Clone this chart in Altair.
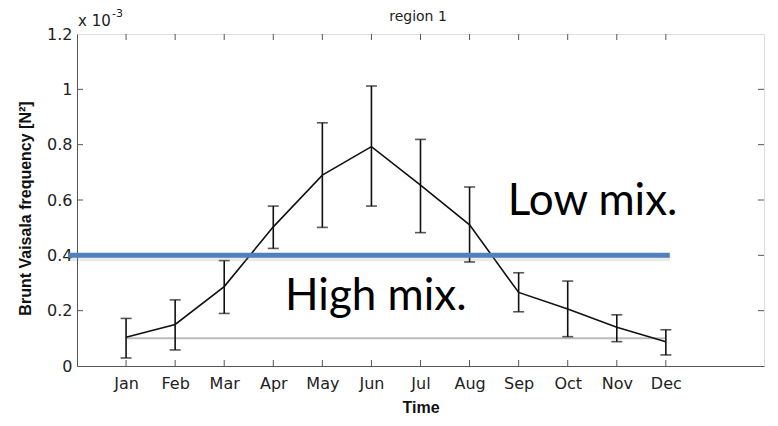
import altair as alt
import pandas as pd

# ---- data ----
months = ["Jan", "Feb", "Mar", "Apr", "May", "Jun", "Jul", "Aug", "Sep", "Oct", "Nov", "Dec"]
month_idx = list(range(1, 13))
n2_mean = [0.104, 0.150, 0.287, 0.503, 0.690, 0.793, 0.654, 0.510, 0.266, 0.206, 0.140, 0.088]
n2_low = [0.029, 0.058, 0.190, 0.425, 0.501, 0.578, 0.482, 0.376, 0.196, 0.106, 0.088, 0.040]
n2_high = [0.172, 0.239, 0.381, 0.578, 0.879, 1.012, 0.819, 0.647, 0.337, 0.307, 0.185, 0.131]
ref_level = 0.1
y_ticks = [0, 0.2, 0.4, 0.6, 0.8, 1.0, 1.2]
threshold = 0.4
threshold_span = [-0.18, 12.08]
x_domain = [0, 14]
y_domain = [0, 1.2]
annot_text = ["Low mix.", "High mix."]
annot_x = [8.78, 4.24]
annot_y = [0.546, 0.202]

W, H = 687, 332
FONT = "DejaVu Sans"
FRAME = "#555555"

df = pd.DataFrame({"m": month_idx, "mean": n2_mean, "lo": n2_low, "hi": n2_high})
ticks_x = pd.DataFrame({"m": month_idx})
ticks_y = pd.DataFrame({"v": [v for v in y_ticks if 0 < v < 1.2]})
ref_df = pd.DataFrame({"x1": [month_idx[0]], "x2": [month_idx[-1]], "y": [ref_level]})
thr_df = pd.DataFrame({"x1": [threshold_span[0]], "x2": [threshold_span[1]], "y": [threshold]})
ann_df = pd.DataFrame({"t": annot_text, "x": annot_x, "y": annot_y})

label_expr = "[" + ",".join("'" + m + "'" for m in months) + "][datum.value - 1]"

xs = alt.Scale(domain=x_domain, nice=False, zero=False)
ys = alt.Scale(domain=y_domain, nice=False, zero=True)

x_axis = alt.Axis(values=month_idx, labelExpr=label_expr, ticks=False, grid=False,
                  labelFont=FONT, labelFontSize=16, labelColor="#222222", labelPadding=9,
                  domainColor=FRAME, title="Time", titleFont="Liberation Sans",
                  titleFontSize=16, titleFontWeight="bold", titleColor="#111111",
                  titleBaseline="alphabetic", titleY=46, labelFlush=False)
y_axis = alt.Axis(values=y_ticks, format="~f", ticks=False, grid=False,
                  labelFont=FONT, labelFontSize=16, labelColor="#222222", labelPadding=5,
                  domainColor=FRAME, title="Brunt Vaisala frequency [N²]",
                  titleFont="Liberation Sans", titleFontSize=16, titleFontWeight="bold",
                  titleColor="#111111", titleAngle=270, titleBaseline="alphabetic",
                  titleAlign="center", titleX=-47, titleY=174, labelFlush=False)

base = alt.Chart(df)

ref_line = alt.Chart(ref_df).mark_rule(color="#bbbbbb", strokeWidth=2).encode(
    x=alt.X("x1:Q", scale=xs, axis=x_axis), x2="x2:Q",
    y=alt.Y("y:Q", scale=ys, axis=y_axis))

err = base.mark_rule(color="#111111", strokeWidth=1.6).encode(
    x=alt.X("m:Q", scale=xs), y=alt.Y("lo:Q", scale=ys), y2="hi:Q")
cap_lo = base.mark_tick(color="#111111", thickness=1.6, size=11, orient="horizontal").encode(
    x=alt.X("m:Q", scale=xs), y=alt.Y("lo:Q", scale=ys))
cap_hi = base.mark_tick(color="#111111", thickness=1.6, size=11, orient="horizontal").encode(
    x=alt.X("m:Q", scale=xs), y=alt.Y("hi:Q", scale=ys))
line = base.mark_line(color="#111111", strokeWidth=1.6).encode(
    x=alt.X("m:Q", scale=xs), y=alt.Y("mean:Q", scale=ys))

# inward ticks on all four sides
tb = alt.Chart(ticks_x).mark_rule(color=FRAME, strokeWidth=1).encode(
    x=alt.X("m:Q", scale=xs), y=alt.value(H), y2=alt.value(H - 6))
tt = alt.Chart(ticks_x).mark_rule(color=FRAME, strokeWidth=1).encode(
    x=alt.X("m:Q", scale=xs), y=alt.value(0), y2=alt.value(6))
tl = alt.Chart(ticks_y).mark_rule(color=FRAME, strokeWidth=1).encode(
    y=alt.Y("v:Q", scale=ys), x=alt.value(0), x2=alt.value(6))
tr = alt.Chart(ticks_y).mark_rule(color=FRAME, strokeWidth=1).encode(
    y=alt.Y("v:Q", scale=ys), x=alt.value(W), x2=alt.value(W - 6))

shadow = alt.Chart(thr_df).mark_rule(color="#888888", strokeWidth=6, opacity=0.18,
                                     yOffset=3, xOffset=1.5, clip=False).encode(
    x=alt.X("x1:Q", scale=xs), x2="x2:Q", y=alt.Y("y:Q", scale=ys))
thr = alt.Chart(thr_df).mark_rule(color="#4f81bd", strokeWidth=5, clip=False).encode(
    x=alt.X("x1:Q", scale=xs), x2="x2:Q", y=alt.Y("y:Q", scale=ys))

ann = alt.Chart(ann_df).mark_text(font="Lato", fontSize=44, align="left",
                                  baseline="alphabetic", color="#000000").encode(
    x=alt.X("x:Q", scale=xs), y=alt.Y("y:Q", scale=ys), text="t:N")

exp_main = alt.Chart(ann_df.head(1)).mark_text(font=FONT, fontSize=15, align="left",
                                               baseline="alphabetic", color="#222222").encode(
    x=alt.value(1), y=alt.value(-8), text=alt.value("x 10"))
exp_sup = alt.Chart(ann_df.head(1)).mark_text(font=FONT, fontSize=11, align="left",
                                              baseline="alphabetic", color="#222222").encode(
    x=alt.value(35), y=alt.value(-17), text=alt.value("-3"))
region = alt.Chart(ann_df.head(1)).mark_text(font=FONT, fontSize=14, align="center",
                                             baseline="alphabetic", color="#222222").encode(
    x=alt.value(341), y=alt.value(-13), text=alt.value("region 1"))

chart = alt.layer(ref_line, err, cap_lo, cap_hi, line, tb, tt, tl, tr, shadow, thr, ann,
                  exp_main, exp_sup, region).properties(
    width=W, height=H, autosize="none",
    padding={"left": 69, "top": 26, "right": 6, "bottom": 52},
).configure_view(stroke=FRAME, strokeWidth=1).configure(background="white")

chart.save("out.html", embed_options={"renderer": "svg", "actions": False})
